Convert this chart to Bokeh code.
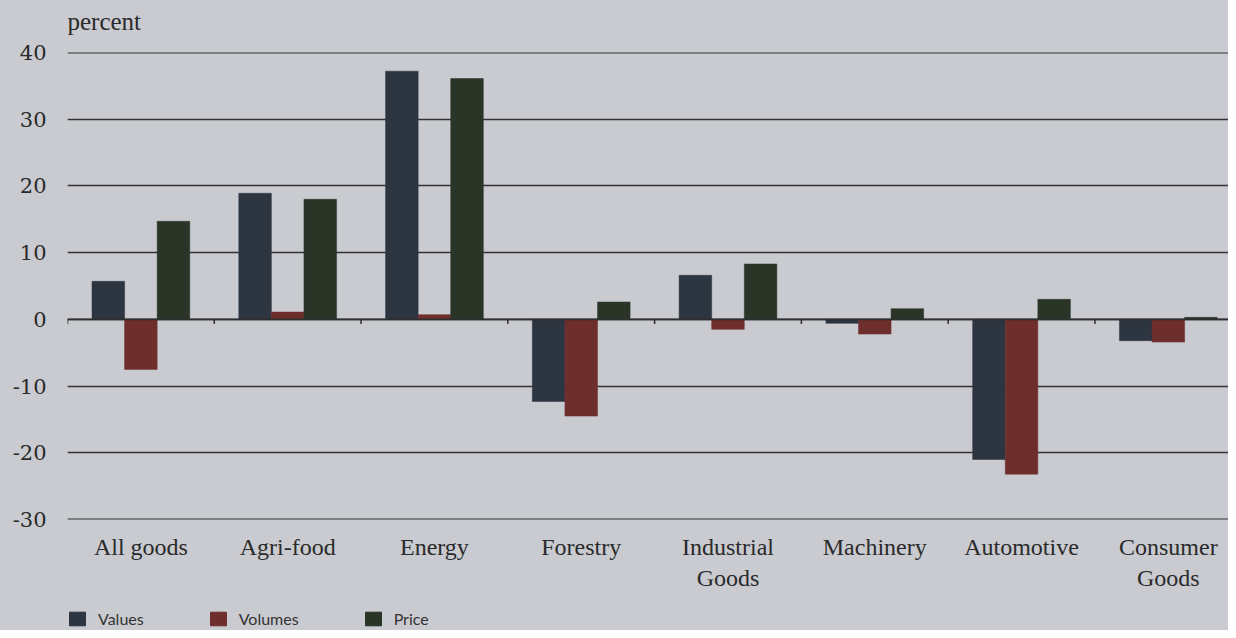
import numpy as np
from bokeh.plotting import figure
from bokeh.layouts import column
from bokeh.core.properties import value
from bokeh.models import Range1d, Legend, LegendItem, FixedTicker, Span, ColumnDataSource
from bokeh.embed import file_html
from bokeh.resources import INLINE

categories = ["All goods", "Agri-food", "Energy", "Forestry", "Industrial\nGoods",
              "Machinery", "Automotive", "Consumer\nGoods"]
values = [5.7, 18.9, 37.2, -12.3, 6.6, -0.6, -21.0, -3.2]
volumes = [-7.5, 1.1, 0.7, -14.5, -1.5, -2.2, -23.2, -3.4]
price = [14.7, 18.0, 36.1, 2.6, 8.3, 1.6, 3.0, 0.3]
series_names = ["Values", "Volumes", "Price"]
series_colors = ["#2c3540", "#6e2e2c", "#2a3528"]
y_ticks = [-30, -20, -10, 0, 10, 20, 30, 40]
unit_label = "percent"

BG = "#c9cbd0"
SERIF = "Liberation Serif"
TXT = "#2a2a2a"
GRID = "#333333"


def strip(height):
    f = figure(width=1228, height=height, output_backend="svg", toolbar_location=None,
               x_range=Range1d(0, 1), y_range=Range1d(0, 1),
               min_border_left=0, min_border_right=0, min_border_top=0, min_border_bottom=0)
    f.background_fill_color = BG
    f.border_fill_color = BG
    f.outline_line_color = None
    f.axis.visible = False
    f.grid.visible = False
    f.styles = {"background-color": BG}
    return f


# top strip with the unit label
p0 = strip(36)
p0.text(x=[0], y=[0.42], text=[unit_label], text_font=value(SERIF), text_font_size="25px",
        text_color=TXT, text_baseline="middle", text_align="left")

# main chart
p = figure(width=1228, height=564, output_backend="svg", toolbar_location=None,
           x_range=Range1d(0, 7.91), y_range=Range1d(-30, 40),
           min_border_left=67, min_border_right=0, min_border_top=16, min_border_bottom=81)
p.background_fill_color = BG
p.border_fill_color = BG
p.outline_line_color = None
p.styles = {"background-color": BG}

centers = np.arange(len(categories)) + 0.5
bw = 0.222
offsets = [-bw, 0.0, bw]
series_data = [values, volumes, price]
for name, data, col, off in zip(series_names, series_data, series_colors, offsets):
    src = ColumnDataSource(dict(x=centers + off, top=data))
    p.vbar(x="x", top="top", bottom=0, width=bw, source=src,
           fill_color=col, line_color=col, line_width=0.5)

# gridlines at the range edges (the grid skips them)
for t in (y_ticks[0], y_ticks[-1]):
    p.add_layout(Span(location=t, dimension="width", line_color=GRID, line_width=2))

# zero axis line with category separator ticks
p.add_layout(Span(location=0, dimension="width", line_color="#2e2e2e", line_width=1.8))
bounds = np.arange(len(categories) + 1)
p.segment(x0=bounds, x1=bounds, y0=np.zeros(len(bounds)), y1=np.full(len(bounds), -0.7),
          line_color="#2e2e2e", line_width=1.5)

# y axis
p.yaxis.ticker = FixedTicker(ticks=y_ticks)
p.yaxis.major_label_overrides = {t: str(t) for t in y_ticks}
p.yaxis.axis_line_color = None
p.yaxis.major_tick_line_color = None
p.yaxis.minor_tick_line_color = None
p.yaxis.major_label_text_font = "DejaVu Serif"
p.yaxis.major_label_text_font_size = "21px"
p.yaxis.major_label_text_color = TXT
p.yaxis.major_label_standoff = 15
p.ygrid.ticker = FixedTicker(ticks=y_ticks)
p.ygrid.grid_line_color = GRID
p.ygrid.grid_line_width = 1.6
p.xgrid.grid_line_color = None

# x axis with category labels
p.xaxis.ticker = FixedTicker(ticks=list(centers))
p.xaxis.major_label_overrides = {float(c): lab for c, lab in zip(centers, categories)}
p.xaxis.axis_line_color = None
p.xaxis.major_tick_line_color = None
p.xaxis.minor_tick_line_color = None
p.xaxis.major_label_text_font = SERIF
p.xaxis.major_label_text_font_size = "24px"
p.xaxis.major_label_text_color = TXT
p.xaxis.major_label_standoff = 8

# legend strip below the chart (series drawn outside its visible range)
p2 = strip(30)
p2.x_range = Range1d(100, 101)
p2.y_range = Range1d(100, 101)
items = []
for name, data, col, off in zip(series_names, series_data, series_colors, offsets):
    src = ColumnDataSource(dict(x=centers + off, top=data))
    r = p2.vbar(x="x", top="top", bottom=0, width=bw, source=src,
                fill_color=col, line_color=col)
    items.append(LegendItem(label=name, renderers=[r]))
legend = Legend(items=items, orientation="horizontal", location=(0, 2),
                background_fill_alpha=0, border_line_color=None,
                label_text_font="Lato", label_text_font_size="16px", label_text_color="#333333",
                glyph_width=20, glyph_height=17, label_standoff=11, spacing=64,
                padding=0, margin=0)
p2.add_layout(legend, "center")

layout = column(p0, p, p2, spacing=0, styles={"background-color": BG})
html = file_html(layout, INLINE)
with open("out.html", "w") as f:
    f.write(html)
